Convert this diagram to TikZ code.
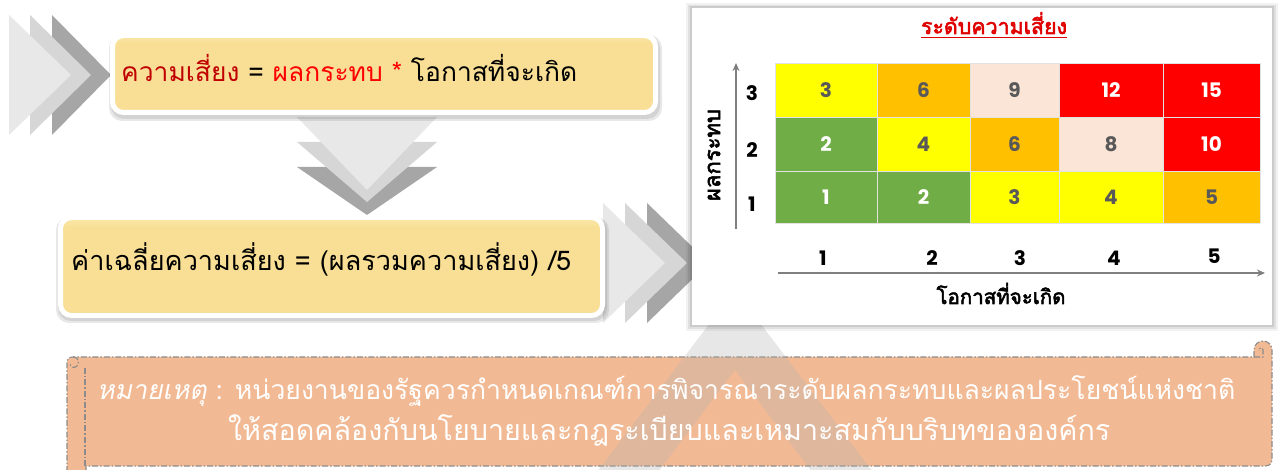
\documentclass[tikz,border=0pt]{standalone}
\usepackage{graphicx}
\usepackage{fontspec}
\setmainfont{Loma}[Script=Thai,ItalicFont={Loma},ItalicFeatures={FakeSlant=0.2},BoldFont={Loma},BoldFeatures={FakeBold=2.5}]
\newfontfamily\numfont{Poppins}
\usetikzlibrary{arrows.meta}
\definecolor{chA}{HTML}{E8E8E8}
\definecolor{chB}{HTML}{D6D6D6}
\definecolor{chC}{HTML}{A6A6A6}
\definecolor{ymain}{HTML}{F8DF95}
\definecolor{ylight}{HTML}{FAE7AA}
\definecolor{ydark}{HTML}{C9A64E}
\definecolor{salmon}{HTML}{F2BA94}
\definecolor{dashgray}{HTML}{8C8C8C}
\definecolor{cyl}{HTML}{FFFF00}
\definecolor{cor}{HTML}{FFC000}
\definecolor{cpc}{HTML}{FBE5D6}
\definecolor{crd}{HTML}{FF0000}
\definecolor{cgn}{HTML}{70AD47}
\definecolor{numg}{HTML}{595959}
\definecolor{darkred}{HTML}{C00000}
\definecolor{titlered}{HTML}{E00000}
\definecolor{axisg}{HTML}{7F7F7F}
\definecolor{gridline}{HTML}{E2E2E2}
\pgfdeclareverticalshading{yboxshade}{100bp}{color(0bp)=(ydark); color(25bp)=(ydark); color(27bp)=(ymain); color(70bp)=(ymain); color(75bp)=(ylight); color(100bp)=(ylight)}
\tikzset{
  ybox/.style={draw=white, line width=5pt, rounded corners=11pt, shading=yboxshade},
  boxshadow/.style={fill=black, opacity=0.09, rounded corners=13pt},
  cellline/.style={draw=gridline, line width=0.9pt},
  numlbl/.style={font=\numfont\fontsize{20}{22}\selectfont\bfseries, inner sep=0},
  axislbl/.style={font=\numfont\fontsize{20}{22}\selectfont\bfseries, text=black, inner sep=0},
  axisarrow/.style={draw=axisg, line width=1.6pt, -{Stealth[length=8pt,width=7pt]}},
  noteline/.style={draw=dashgray, line width=1.1pt, dash pattern=on 6pt off 2pt on 1.5pt off 2pt},
  bigtext/.style={anchor=base west, inner sep=0},
}
\begin{document}
\begin{tikzpicture}[x=1pt,y=-1pt]
\useasboundingbox[fill=white] (0,0) rectangle (1278,470);

% ---- note scroll ----
\draw[noteline, fill=salmon] (67,472) -- (67,363) .. controls (67,359) and (69,357) .. (73,357)
  -- (1254,357) -- (1254,350) .. controls (1254,345) and (1258,341) .. (1263,341)
  .. controls (1268,341) and (1272,345) .. (1272,350) -- (1272,459)
  .. controls (1272,463) and (1270,466) .. (1265,466) -- (86,466) -- (86,472) -- cycle;
\draw[noteline] (73,357) .. controls (78,357) and (80,362) .. (77,366) .. controls (74,369) and (70,367) .. (70,363);
\draw[noteline] (85,368) -- (85,466);
\draw[noteline] (1254,357) -- (1263,357) -- (1263,350) .. controls (1263,347) and (1259,347) .. (1259,351);

% ---- faint background chevron ----
\fill[gray!60, opacity=0.3, even odd rule] (597,472) -- (735,290) -- (873,472) -- cycle
  (658,472) -- (735,370) -- (812,472) -- cycle;

% ---- chevrons ----
\fill[chC] (52,15) -- (111,75) -- (52,135) -- cycle;
\fill[chB] (30,15) -- (91,75) -- (30,135) -- cycle;
\fill[chA] (9,15) -- (71,75) -- (9,135) -- cycle;

\fill[chC] (297,167) -- (437,167) -- (367,215) -- cycle;
\fill[chB] (297,142) -- (437,142) -- (367,202) -- cycle;
\fill[chA] (297,117) -- (437,117) -- (367,190) -- cycle;

\fill[chC] (647,203) -- (709,263) -- (647,323) -- cycle;
\fill[chB] (625,203) -- (687,263) -- (625,323) -- cycle;
\fill[chA] (603,203) -- (665,263) -- (603,323) -- cycle;

% ---- yellow boxes ----
\fill[boxshadow] (109,35) rectangle (662,121);
\fill[boxshadow] (111,36) rectangle (660,119);
\draw[ybox] (112.5,35.5) rectangle (655.5,112.5);
\node[bigtext] (t1) at (121,82) {\resizebox{456pt}{!}{\fontsize{26}{30}\selectfont\textcolor{darkred}{ความเสี่ยง} = \textcolor{crd}{ผลกระทบ *} โอกาสที่จะเกิด}};

\fill[boxshadow] (56,217) rectangle (609,323);
\fill[boxshadow] (58,218) rectangle (607,321);
\draw[ybox] (60.5,217.5) rectangle (602.5,315.5);
\node[bigtext] (t2) at (71,271) {\resizebox{500pt}{!}{\fontsize{26}{30}\selectfont ค่าเฉลี่ยความเสี่ยง = (ผลรวมความเสี่ยง) /5}};

% ---- matrix panel ----
\fill[black, opacity=0.05] (686,3) rectangle (1278,331);
\fill[black, opacity=0.07] (688,5) rectangle (1276,329);
\fill[black, opacity=0.09] (690,6) rectangle (1274,327);
\fill[white] (692,8) rectangle (1272,325);

\node[anchor=base, inner sep=0, text=titlered] (title) at (994,34) {\resizebox{146pt}{!}{\fontsize{20}{22}\selectfont\bfseries ระดับความเสี่ยง}};
\draw[titlered, line width=1.3pt] ([yshift=-3.5pt]title.base west) -- ([yshift=-3.5pt]title.base east);

\foreach \xa/\xb/\ya/\yb/\fc/\tc/\v/\nm in {
  775/877/63/117/cyl/numg/3/a1, 877/970/63/117/cor/numg/6/a2, 970/1059/63/117/cpc/numg/9/a3,
  1059/1163/63/117/crd/white/12/a4, 1163/1260/63/117/crd/white/15/a5,
  775/877/117/171/cgn/white/2/b1, 877/970/117/171/cyl/numg/4/b2, 970/1059/117/171/cor/numg/6/b3,
  1059/1163/117/171/cpc/numg/8/b4, 1163/1260/117/171/crd/white/10/b5,
  775/877/171/223/cgn/white/1/c1, 877/970/171/223/cgn/white/2/c2, 970/1059/171/223/cyl/numg/3/c3,
  1059/1163/171/223/cyl/numg/4/c4, 1163/1260/171/223/cor/numg/5/c5}
{
  \fill[\fc] (\xa,\ya) rectangle (\xb,\yb);
  \node[numlbl, text=\tc] (cell\nm) at ({(\xa+\xb)/2},{(\ya+\yb)/2}) {\v};
}
\foreach \xx in {775,877,970,1059,1163,1260} { \draw[cellline] (\xx,63) -- (\xx,223); }
\foreach \yy in {63,117,171,223} { \draw[cellline] (775,\yy) -- (1260,\yy); }

% axes
\coordinate (yax0) at (736,229);
\coordinate (yax1) at (736,63);
\draw[axisarrow] (yax0) -- (yax1);
\coordinate (xax0) at (778,273);
\coordinate (xax1) at (1265,273);
\draw[axisarrow] (xax0) -- (xax1);

\node[axislbl] (r3) at (752,93) {3};
\node[axislbl] (r2) at (752,150) {2};
\node[axislbl] (r1) at (752,204) {1};

\node[axislbl] (k1) at (823,258) {1};
\node[axislbl] (k2) at (932,258) {2};
\node[axislbl] (k3) at (1020,258) {3};
\node[axislbl] (k4) at (1114,258) {4};
\node[axislbl] (k5) at (1214,256) {5};

\node[inner sep=0, rotate=90] (ylab) at (714,155) {\resizebox{92pt}{!}{\fontsize{20}{22}\selectfont\bfseries ผลกระทบ}};
\node[anchor=base, inner sep=0] (xlab) at (1001,304) {\resizebox{129pt}{!}{\fontsize{20}{22}\selectfont\bfseries โอกาสที่จะเกิด}};

% ---- note text ----
\node[bigtext, text=white] (n1) at (97,400) {\resizebox{1138pt}{!}{\fontsize{26}{30}\selectfont\textit{หมายเหตุ} : หน่วยงานของรัฐควรกำหนดเกณฑ์การพิจารณาระดับผลกระทบและผลประโยชน์แห่งชาติ}};
\node[bigtext, text=white] (n2) at (228,440) {\resizebox{882pt}{!}{\fontsize{26}{30}\selectfont ให้สอดคล้องกับนโยบายและกฎระเบียบและเหมาะสมกับบริบทขององค์กร}};
\end{tikzpicture}
\end{document}
